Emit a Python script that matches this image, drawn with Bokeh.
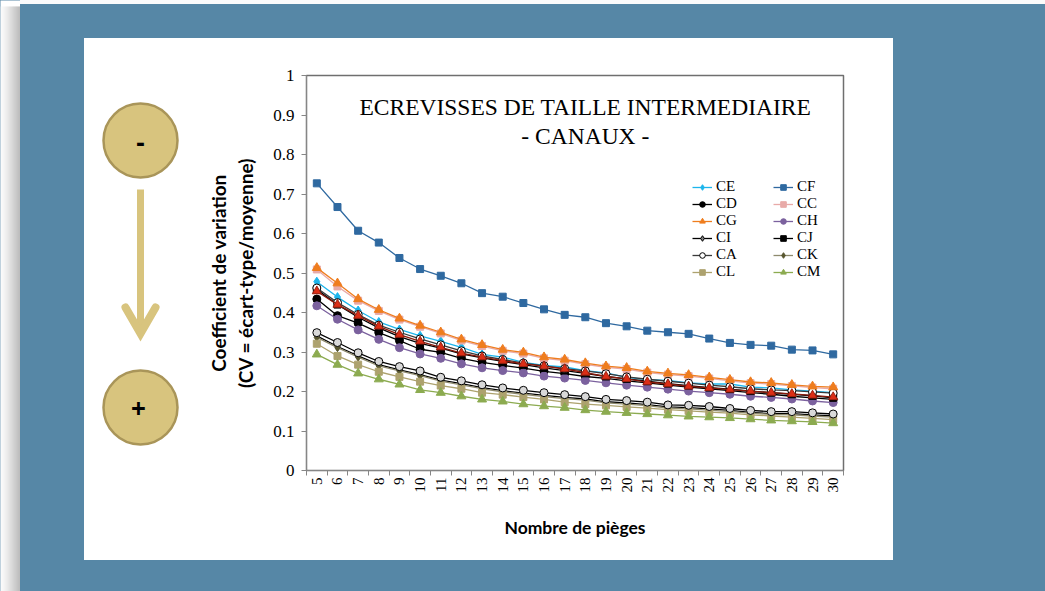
import math
from bokeh.plotting import figure
from bokeh.models import Range1d, FixedTicker, Legend, LegendItem, Label, Spacer
from bokeh.layouts import row, column
from bokeh.embed import file_html
from bokeh.resources import INLINE
from bokeh.core.properties import value

# ---------------- data ----------------
n_pieges = [5, 6, 7, 8, 9, 10, 11, 12, 13, 14, 15, 16, 17, 18, 19, 20, 21, 22, 23, 24, 25, 26, 27, 28, 29, 30]

CE = [0.478, 0.439, 0.405, 0.376, 0.357, 0.341, 0.327, 0.312, 0.294, 0.287, 0.274, 0.266, 0.262, 0.253, 0.247, 0.236, 0.230, 0.228, 0.222, 0.219, 0.219, 0.211, 0.209, 0.204, 0.201, 0.197]
CF = [0.727, 0.667, 0.607, 0.577, 0.538, 0.510, 0.493, 0.474, 0.449, 0.440, 0.424, 0.408, 0.394, 0.388, 0.373, 0.365, 0.354, 0.350, 0.346, 0.334, 0.323, 0.318, 0.316, 0.306, 0.304, 0.294]
CD = [0.434, 0.392, 0.373, 0.349, 0.329, 0.307, 0.299, 0.284, 0.274, 0.266, 0.259, 0.251, 0.245, 0.238, 0.233, 0.227, 0.222, 0.216, 0.211, 0.207, 0.202, 0.197, 0.193, 0.188, 0.184, 0.180]
CC = [0.509, 0.466, 0.430, 0.404, 0.382, 0.364, 0.347, 0.329, 0.315, 0.303, 0.296, 0.284, 0.278, 0.269, 0.261, 0.257, 0.248, 0.243, 0.239, 0.233, 0.227, 0.221, 0.219, 0.214, 0.210, 0.207]
CG = [0.513, 0.474, 0.434, 0.407, 0.385, 0.367, 0.350, 0.332, 0.318, 0.306, 0.299, 0.287, 0.281, 0.272, 0.264, 0.260, 0.251, 0.246, 0.242, 0.236, 0.230, 0.224, 0.222, 0.217, 0.213, 0.211]
CH = [0.417, 0.383, 0.356, 0.332, 0.311, 0.295, 0.284, 0.270, 0.260, 0.253, 0.247, 0.239, 0.234, 0.228, 0.222, 0.216, 0.211, 0.206, 0.201, 0.197, 0.193, 0.188, 0.185, 0.181, 0.176, 0.172]
CI = [0.341, 0.314, 0.290, 0.268, 0.255, 0.243, 0.229, 0.220, 0.210, 0.202, 0.196, 0.190, 0.185, 0.181, 0.174, 0.171, 0.167, 0.161, 0.159, 0.156, 0.152, 0.147, 0.144, 0.144, 0.141, 0.138]
CJ = [0.458, 0.420, 0.388, 0.361, 0.339, 0.322, 0.310, 0.295, 0.285, 0.276, 0.268, 0.260, 0.253, 0.246, 0.238, 0.232, 0.226, 0.220, 0.215, 0.210, 0.206, 0.201, 0.197, 0.193, 0.189, 0.184]
CA = [0.462, 0.425, 0.395, 0.368, 0.350, 0.333, 0.318, 0.303, 0.290, 0.281, 0.272, 0.265, 0.258, 0.252, 0.245, 0.237, 0.231, 0.226, 0.221, 0.216, 0.212, 0.207, 0.204, 0.202, 0.199, 0.196]
CK = [0.337, 0.311, 0.287, 0.265, 0.252, 0.240, 0.226, 0.217, 0.207, 0.199, 0.193, 0.187, 0.182, 0.178, 0.171, 0.168, 0.164, 0.158, 0.156, 0.153, 0.149, 0.145, 0.142, 0.141, 0.138, 0.135]
CL = [0.321, 0.290, 0.268, 0.250, 0.237, 0.225, 0.215, 0.207, 0.197, 0.192, 0.186, 0.180, 0.173, 0.168, 0.165, 0.161, 0.158, 0.154, 0.151, 0.148, 0.145, 0.141, 0.138, 0.135, 0.132, 0.129]
CM = [0.294, 0.268, 0.246, 0.231, 0.218, 0.204, 0.197, 0.188, 0.180, 0.175, 0.168, 0.163, 0.159, 0.153, 0.149, 0.146, 0.143, 0.140, 0.137, 0.135, 0.133, 0.130, 0.127, 0.125, 0.123, 0.120]
# two series drawn in the chart but absent from its legend
serie_rouge = [0.454, 0.420, 0.392, 0.365, 0.344, 0.327, 0.312, 0.297, 0.287, 0.278, 0.270, 0.264, 0.257, 0.248, 0.238, 0.232, 0.224, 0.219, 0.213, 0.209, 0.205, 0.201, 0.197, 0.194, 0.190, 0.186]
serie_grise = [0.349, 0.324, 0.298, 0.276, 0.263, 0.252, 0.236, 0.227, 0.217, 0.209, 0.203, 0.197, 0.192, 0.187, 0.180, 0.177, 0.173, 0.166, 0.165, 0.162, 0.157, 0.152, 0.149, 0.149, 0.146, 0.143]

y_ticks = [0, 0.1, 0.2, 0.3, 0.4, 0.5, 0.6, 0.7, 0.8, 0.9, 1]
y_tick_labels = ["0", "0.1", "0.2", "0.3", "0.4", "0.5", "0.6", "0.7", "0.8", "0.9", "1"]

title_lines = ["ECREVISSES DE TAILLE INTERMEDIAIRE", "- CANAUX -"]
x_title = "Nombre de pièges"
y_title = "Coefficient de variation\n(CV = écart-type/moyenne)"

# ---------------- styles ----------------
BLUE = "#5687a6"
GOLD = "#d8c47e"
GOLD_EDGE = "#a99559"
SERIF = "Liberation Serif"
SANS = "Lato"

series = [
    # name, values, line colour, marker, fill, marker line, size
    ("CE", CE, "#1cb5ec", "diamond", "#1cb5ec", "#1cb5ec", 9),
    ("CF", CF, "#2f69a0", "square", "#2f69a0", "#2f69a0", 7),
    ("CD", CD, "#000000", "circle", "#000000", "#000000", 8),
    ("CC", CC, "#e8aaa8", "square", "#e8aaa8", "#e8aaa8", 7),
    ("CH", CH, "#7b619e", "circle", "#7b619e", "#7b619e", 8),
    ("CI", CI, "#000000", "diamond", "#7f7f7f", "#000000", 8),
    ("CK", CK, "#8e8a6e", "diamond", "#58562f", "#58562f", 8),
    ("CL", CL, "#ada26e", "square", "#ada26e", "#ada26e", 7),
    ("CM", CM, "#8cab50", "triangle", "#8cab50", "#8cab50", 9),
    (None, serie_grise, "#000000", "circle", "#d9d9d9", "#000000", 8),
    ("CJ", CJ, "#000000", "square", "#000000", "#000000", 7),
    ("CA", CA, "#3a3a3a", "circle", "#ffffff", "#000000", 8),
    (None, serie_rouge, "#8a1a0c", "triangle", "#dc2e16", "#9a2010", 9),
    ("CG", CG, "#ef7d1e", "triangle", "#ef7d1e", "#ef7d1e", 9),
]
legend_order = [["CE", "CD", "CG", "CI", "CA", "CL"], ["CF", "CC", "CH", "CJ", "CK", "CM"]]


def plain_fig(w, h, xr, yr):
    f = figure(width=w, height=h, x_range=Range1d(*xr), y_range=Range1d(*yr),
               toolbar_location=None, output_backend="svg", min_border=0,
               x_axis_location=None, y_axis_location=None, outline_line_color=None,
               background_fill_color="white", border_fill_color="white", title=None)
    f.xgrid.visible = False
    f.ygrid.visible = False
    return f


# ---------------- shadow strip at far left ----------------
shadow = plain_fig(20, 591, (0, 20), (591, 0))
shadow_cols = ["#fbfbfb", "#f8f8f8", "#f5f5f5", "#f2f2f2", "#eeeeee", "#eaeaea",
               "#e6e6e6", "#e1e1e1", "#dcdcdc", "#d7d7d7", "#d2d2d2", "#cdcdcd",
               "#c8c8c8", "#c3c3c3", "#bebebe", "#b9b9b9", "#b4b4b4", "#afafaf",
               "#aaaaaa", "#a6a6a6"]
shadow.quad(left=list(range(0, 20)), right=list(range(1, 21)), top=6, bottom=591,
            fill_color=shadow_cols, line_color=None)

# ---------------- left decoration (circles, arrow) ----------------
# the row aligns this figure's frame with the chart frame (page y 75..470)
deco = plain_fig(116, 522, (84, 200), (470, 75))
deco.circle(x=[140, 140], y=[140, 407], radius=37, fill_color=GOLD,
            line_color=GOLD_EDGE, line_width=2.5)
deco.line(x=[140, 140], y=[189, 326], line_width=7, line_color=GOLD)
deco.line(x=[125, 140, 155], y=[307, 333, 307], line_width=8, line_color=GOLD,
          line_cap="round", line_join="miter")
deco.text(x=[140, 138], y=[142, 408], text=["-", "+"], text_align="center",
          text_baseline="middle", text_font=value("Open Sans"),
          text_font_style="bold", text_font_size="26px", text_color="black")

# ---------------- main chart ----------------
p = figure(width=693, height=522, x_range=Range1d(4.5, 30.5), y_range=Range1d(0, 1),
           toolbar_location=None, output_backend="svg", title=None,
           min_border_left=106, min_border_right=50, min_border_top=37,
           min_border_bottom=90, background_fill_color="white",
           border_fill_color="white", outline_line_color="#6f6f6f",
           outline_line_width=1.5)
p.xgrid.visible = False
p.ygrid.visible = False

renderers = {}
for name, vals, lc, marker, fc, mlc, size in series:
    lr = p.line(n_pieges, vals, line_color=lc, line_width=1.3)
    sr = p.scatter(n_pieges, vals, marker=marker, size=size, fill_color=fc,
                   line_color=mlc, line_width=1)
    if name:
        renderers[name] = [lr, sr]

# axes
xa = p.xaxis[0]
xa.ticker = FixedTicker(ticks=n_pieges, minor_ticks=[v - 0.5 for v in n_pieges] + [n_pieges[-1] + 0.5])
xa.major_tick_out = 0
xa.major_tick_in = 0
xa.minor_tick_out = 5
xa.minor_tick_in = 0
xa.minor_tick_line_color = "#868686"
xa.axis_line_color = "#868686"
xa.major_label_orientation = math.pi / 2
xa.major_label_standoff = 2
xa.major_label_text_font = SERIF
xa.major_label_text_font_size = "15px"
xa.major_label_text_color = "black"
xa.axis_label = x_title
xa.axis_label_text_font = SANS
xa.axis_label_text_font_style = "bold"
xa.axis_label_text_font_size = "17.5px"
xa.axis_label_text_color = "black"
xa.axis_label_standoff = 21

ya = p.yaxis[0]
ya.ticker = FixedTicker(ticks=y_ticks, minor_ticks=[])
ya.major_label_overrides = {t: l for t, l in zip(y_ticks, y_tick_labels)}
ya.major_tick_out = 5
ya.major_tick_in = 0
ya.major_tick_line_color = "#868686"
ya.axis_line_color = "#868686"
ya.major_label_standoff = 7
ya.major_label_text_font = SERIF
ya.major_label_text_font_size = "17px"
ya.major_label_text_color = "black"
ya.axis_label = y_title
ya.axis_label_text_font = SANS
ya.axis_label_text_font_style = "bold"
ya.axis_label_text_font_size = "19px"
ya.axis_label_text_color = "black"
ya.axis_label_standoff = 13

# title inside the plot area
p.add_layout(Label(x=18.0, y=0.919, text=title_lines[0], text_align="center",
                   text_baseline="middle", text_font=SERIF, text_font_size="23.5px",
                   text_color="black"))
p.add_layout(Label(x=18.0, y=0.848, text=title_lines[1], text_align="center",
                   text_baseline="middle", text_font=SERIF, text_font_size="23.5px",
                   text_color="black"))

# legends (two columns)
for ci, xloc in enumerate([386, 467]):
    items = [LegendItem(label=nm, renderers=renderers[nm]) for nm in legend_order[ci]]
    leg = Legend(items=items, location=(xloc, 190), padding=0, margin=0, spacing=0,
                 glyph_width=20, glyph_height=14, label_height=14, label_standoff=4,
                 label_text_font=SERIF, label_text_font_size="15px",
                 label_text_color="black", background_fill_alpha=0,
                 border_line_color=None)
    p.add_layout(leg)

# ---------------- page layout ----------------
panel = row(deco, p, styles={"background-color": "white"})
middle = row(Spacer(width=64, height=522), panel, Spacer(width=152, height=522))
blue_area = column(Spacer(width=1025, height=38), middle, Spacer(width=1025, height=31),
                   styles={"background": "linear-gradient(to bottom, #fbfbfb 0px, #fbfbfb 4px, %s 4px)" % BLUE})
layout = row(shadow, blue_area, styles={"background-color": BLUE})

open("out.html", "w").write(file_html(layout, INLINE))
